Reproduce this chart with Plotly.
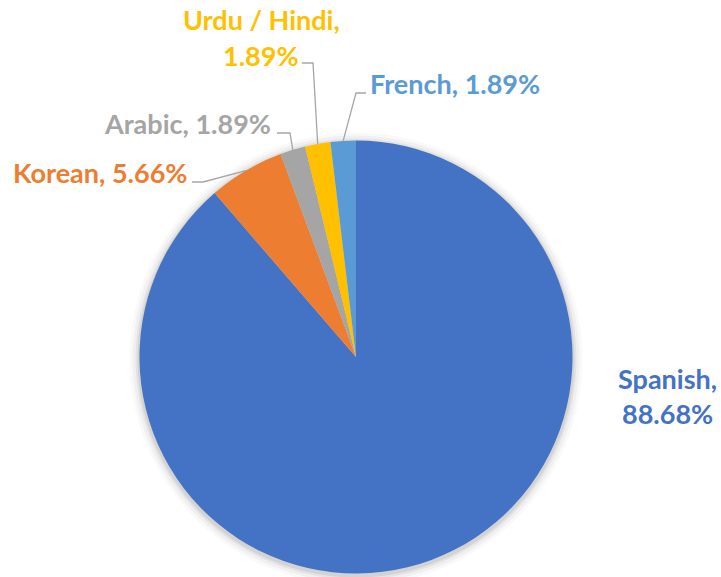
import math
import plotly.graph_objects as go

# ---- data ----
languages = ["Spanish", "Korean", "Arabic", "Urdu / Hindi", "French"]
counts = [47, 3, 1, 1, 1]
colors = ["#4472C4", "#ED7D31", "#A5A5A5", "#FFC000", "#5B9BD5"]

# ---- layout constants (pixels) ----
W, H = 721, 577
CX, CY, R = 356, 357, 216.5
FONT = "Lato"
FS = 27
LEADER = "#A6A6A6"

total = sum(counts)
pcts = [100 * c / total for c in counts]

# label placement styles
label_style = {
    "Spanish": dict(lines=["Spanish,", "{p}"], x=667, ys=[378, 413], xanchor="center", leader=None),
    "Korean": dict(lines=["Korean, {p}"], x=189, ys=[172], xanchor="right", leader=((192, 182), (203, 182))),
    "Arabic": dict(lines=["Arabic, {p}"], x=273, ys=[123], xanchor="right", leader=((277, 133), (290, 133))),
    "Urdu / Hindi": dict(lines=["Urdu / Hindi,", "{p}"], x=261, ys=[19, 55], xanchor="center", leader=((302, 63), (313, 63))),
    "French": dict(lines=["French, {p}"], x=368, ys=[83], xanchor="left", leader=((366, 93), (356, 93))),
}

fig = go.Figure()

# soft shadow halo around the pie
for grow, alpha in [(10, 0.025), (7, 0.035), (4, 0.05), (2, 0.07)]:
    fig.add_shape(type="circle", xref="x", yref="y",
                  x0=CX - R - grow, x1=CX + R + grow,
                  y0=CY - R - grow + 2, y1=CY + R + grow + 2,
                  fillcolor=f"rgba(0,0,0,{alpha})", line_width=0, layer="below")

fig.add_trace(go.Pie(
    labels=languages, values=counts, sort=False, direction="clockwise", rotation=0,
    marker=dict(colors=colors, line=dict(width=0)),
    textinfo="none", hoverinfo="label+percent", showlegend=False,
    domain=dict(x=[(CX - R) / W, (CX + R) / W], y=[1 - (CY + R) / H, 1 - (CY - R) / H]),
))

# leader lines computed from slice mid-angles
lx, ly = [], []
cum = 0
for name, c in zip(languages, counts):
    mid = (cum + c / 2) / total
    cum += c
    st = label_style[name]
    if st["leader"] is None:
        continue
    th = 2 * math.pi * mid
    ax_, ay_ = CX + R * math.sin(th), CY - R * math.cos(th)
    (x0, y0), (x1, y1) = st["leader"]
    lx += [x0, x1, ax_, None]
    ly += [y0, y1, ay_, None]

fig.add_trace(go.Scatter(x=lx, y=ly, mode="lines", line=dict(color=LEADER, width=1.3),
                         hoverinfo="skip", showlegend=False))

for name, p, col in zip(languages, pcts, colors):
    st = label_style[name]
    for line, y in zip(st["lines"], st["ys"]):
        fig.add_annotation(x=st["x"], y=y, xref="x", yref="y", showarrow=False,
                           xanchor=st["xanchor"], yanchor="middle",
                           text="<b>" + line.format(p=f"{p:.2f}%") + "</b>",
                           font=dict(family=FONT, size=FS, color=col))

fig.update_layout(
    width=W, height=H, margin=dict(l=0, r=0, t=0, b=0),
    paper_bgcolor="white", plot_bgcolor="white",
    xaxis=dict(range=[0, W], visible=False, fixedrange=True),
    yaxis=dict(range=[H, 0], visible=False, fixedrange=True),
)

fig.write_html("out.html", config={"displayModeBar": False},
               post_script="document.body.style.margin='0';document.body.style.overflow='hidden';")
